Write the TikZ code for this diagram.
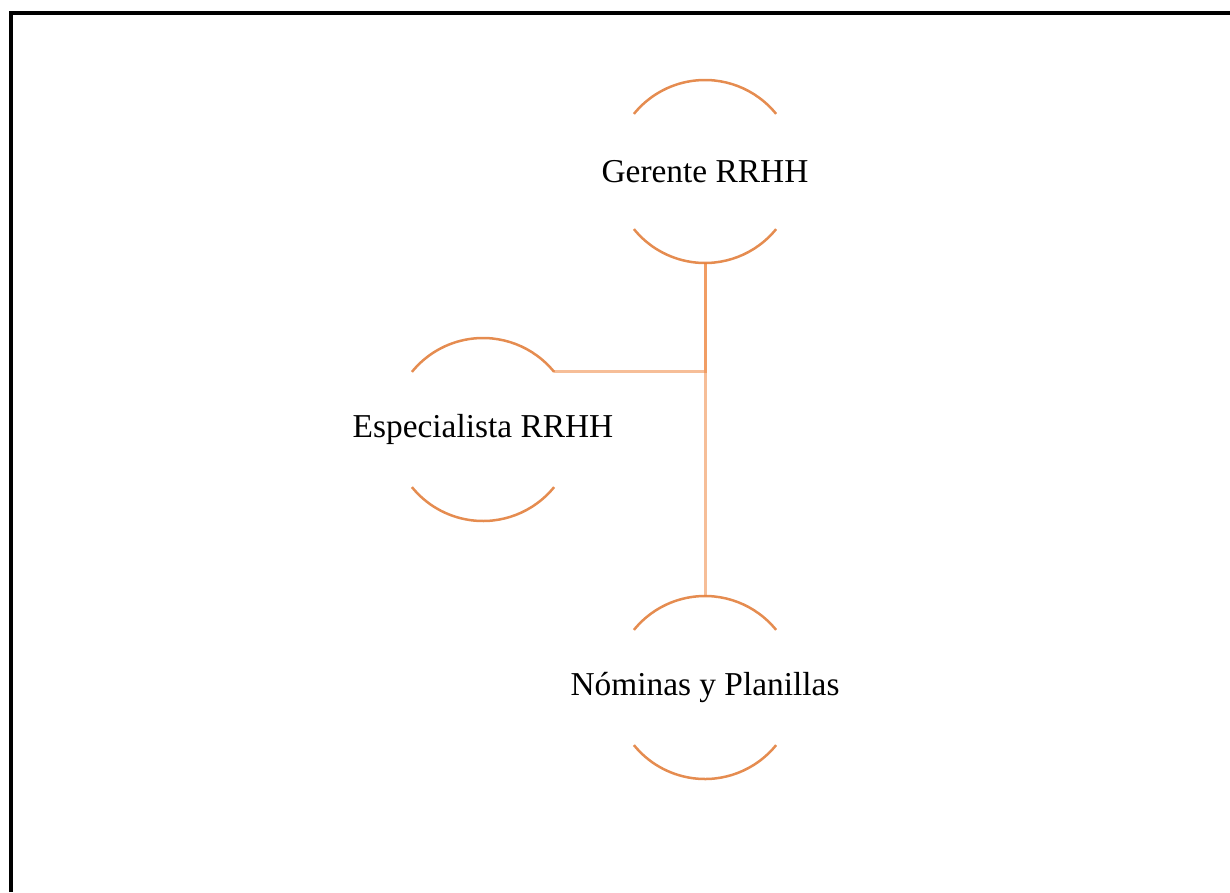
\documentclass[tikz,border=0pt]{standalone}
\usepackage{fontspec}
\setmainfont{Liberation Serif}
\usepackage{tikz}
\usetikzlibrary{positioning}

\definecolor{arcorange}{RGB}{229,140,80}
\definecolor{linkorange}{RGB}{237,125,49}

\begin{document}
\begin{tikzpicture}[
    role/.style={circle, draw=none, inner sep=0pt, outer sep=0pt, minimum size=3.66cm,
        label={[font=\fontsize{19}{23}\selectfont]center:#1}},
    halfarc/.style={draw=arcorange, line width=0.05cm},
    link/.style={draw=linkorange, draw opacity=0.5, line width=0.06cm},
    frame/.style={draw=black, line width=0.07cm}
]

\useasboundingbox (0,0) rectangle (24.6,-17.84);
\draw[frame] (0.22,-17.84) |- (24.6,-0.26);

\node[role={Gerente RRHH}] (gerente) at (14.1,-3.43) {};
\node[role={Especialista RRHH}] (especialista) at (9.66,-8.59) {};
\node[role={Nóminas y Planillas}, below=6.66cm of gerente] (nominas) {};

% arcs above and below each role
\foreach \n in {gerente, especialista, nominas} {
    \draw[halfarc] (\n.39) arc[start angle=39, end angle=141, radius=1.83cm];
    \draw[halfarc] (\n.-39) arc[start angle=-39, end angle=-141, radius=1.83cm];
}

\draw[link] (gerente.south) |- (especialista.39);
\draw[link] (gerente.south) -- (nominas.north);

\end{tikzpicture}
\end{document}
